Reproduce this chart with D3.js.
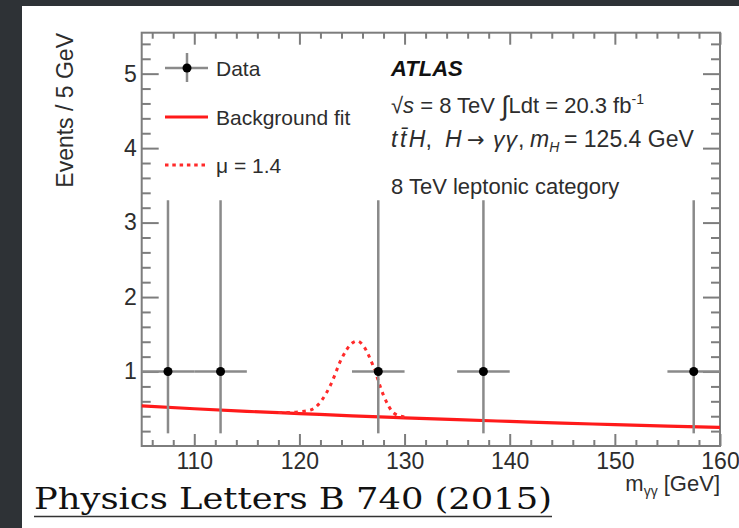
<!DOCTYPE html>
<html><head><meta charset="utf-8">
<script src="https://cdn.jsdelivr.net/npm/d3@7"></script>
<style>
body{margin:0;background:#2e3236}
svg{display:block}
</style>
</head><body><svg id="c" width="739" height="528"></svg>
<script>
// ---- data ----
const dataMass = [107.5, 112.5, 127.5, 137.5, 157.5];
const dataEvents = [1, 1, 1, 1, 1];
const dataErrDown = [0.83, 0.83, 0.83, 0.83, 0.83];
const dataErrUp = [2.30, 2.30, 2.30, 2.30, 2.30];
const binHalfWidth = 2.5;
const bgMass = [105, 110, 115, 120, 125, 130, 135, 140, 145, 150, 155, 160];
const bgEvents = [0.54, 0.50, 0.465, 0.435, 0.405, 0.378, 0.353, 0.33, 0.307, 0.287, 0.268, 0.25];
const sigMass = [118, 119, 120, 121, 122, 123, 124, 125, 125.5, 126, 127, 128, 129, 130];
const sigEvents = [0.45, 0.45, 0.46, 0.48, 0.59, 0.83, 1.17, 1.38, 1.41, 1.36, 1.08, 0.68, 0.44, 0.39];
const xTicks = [110, 120, 130, 140, 150, 160];
const xMinorTicks = [106,108,112,114,116,118,122,124,126,128,132,134,136,138,142,144,146,148,152,154,156,158];
const yTicks = [1, 2, 3, 4, 5];
const yMinorTicks = [0.2,0.4,0.6,0.8,1.2,1.4,1.6,1.8,2.2,2.4,2.6,2.8,3.2,3.4,3.6,3.8,4.2,4.4,4.6,4.8,5.2,5.4];
const xDomain = [105, 160];
const yDomain = [0, 5.55];

// ---- drawing ----
const SANS = '"Liberation Sans",Arial,Helvetica,sans-serif';
const svg = d3.select("#c").style("font-family", SANS);
svg.append("rect").attr("width", 739).attr("height", 528).attr("fill", "#2e3236");
svg.append("rect").attr("x", 22).attr("y", 6).attr("width", 717).attr("height", 522).attr("fill", "#fff");

const L = 141.7, R = 720, T = 32.7, B = 446;
const x = d3.scaleLinear().domain(xDomain).range([L, R]);
const y = d3.scaleLinear().domain(yDomain).range([B, T]);
const axisCol = "#7d7d7d", txtCol = "#2d2d2d";

function styleAxis(g, fs) {
  g.select(".domain").remove();
  g.attr("font-family", SANS);
  g.selectAll(".tick line").attr("stroke", axisCol).attr("stroke-width", 2);
  g.selectAll(".tick text").attr("fill", txtCol).attr("font-size", fs);
}
// bottom
svg.append("g").attr("transform", `translate(0,${B})`)
  .call(d3.axisBottom(x).tickValues(xTicks).tickSize(-12).tickPadding(7).tickFormat(d3.format("d")))
  .call(g => styleAxis(g, 23));
svg.append("g").attr("transform", `translate(0,${B})`)
  .call(d3.axisBottom(x).tickValues(xMinorTicks).tickSize(-6).tickFormat(""))
  .call(g => styleAxis(g, 0));
// top
svg.append("g").attr("transform", `translate(0,${T})`)
  .call(d3.axisTop(x).tickValues(xTicks).tickSize(-12).tickFormat(""))
  .call(g => styleAxis(g, 0));
svg.append("g").attr("transform", `translate(0,${T})`)
  .call(d3.axisTop(x).tickValues(xMinorTicks).tickSize(-6).tickFormat(""))
  .call(g => styleAxis(g, 0));
// left
svg.append("g").attr("transform", `translate(${L},0)`)
  .call(d3.axisLeft(y).tickValues(yTicks).tickSize(-17).tickPadding(5).tickFormat(d3.format("d")))
  .call(g => styleAxis(g, 23));
svg.append("g").attr("transform", `translate(${L},0)`)
  .call(d3.axisLeft(y).tickValues(yMinorTicks).tickSize(-9).tickFormat(""))
  .call(g => styleAxis(g, 0));
// right
svg.append("g").attr("transform", `translate(${R},0)`)
  .call(d3.axisRight(y).tickValues(yTicks).tickSize(-17).tickFormat(""))
  .call(g => styleAxis(g, 0));
svg.append("g").attr("transform", `translate(${R},0)`)
  .call(d3.axisRight(y).tickValues(yMinorTicks).tickSize(-9).tickFormat(""))
  .call(g => styleAxis(g, 0));

// frame
svg.append("rect").attr("x", L).attr("y", T).attr("width", R - L).attr("height", B - T)
  .attr("fill", "none").attr("stroke", axisCol).attr("stroke-width", 2);

// background fit
const line = d3.line().x(d => x(d[0])).y(d => y(d[1])).curve(d3.curveMonotoneX);
svg.append("path").datum(bgMass.map((m, i) => [m, bgEvents[i]]))
  .attr("d", line).attr("fill", "none").attr("stroke", "#ff1a1a").attr("stroke-width", 3.2);
// signal + background
svg.append("path").datum(sigMass.map((m, i) => [m, sigEvents[i]]))
  .attr("d", line).attr("fill", "none").attr("stroke", "#ff2a2a").attr("stroke-width", 3)
  .attr("stroke-dasharray", "3.5,4.5");

// data
const pts = dataMass.map((m, i) => ({m, v: dataEvents[i], lo: dataErrDown[i], hi: dataErrUp[i]}));
const dg = svg.append("g");
dg.selectAll(".ev").data(pts).join("line")
  .attr("x1", d => x(d.m)).attr("x2", d => x(d.m))
  .attr("y1", d => y(d.v - d.lo)).attr("y2", d => y(d.v + d.hi))
  .attr("stroke", "#8a8a8a").attr("stroke-width", 2.5);
dg.selectAll(".eh").data(pts).join("line")
  .attr("x1", d => x(d.m - binHalfWidth)).attr("x2", d => x(d.m + binHalfWidth))
  .attr("y1", d => y(d.v)).attr("y2", d => y(d.v))
  .attr("stroke", "#8a8a8a").attr("stroke-width", 2.5);
dg.selectAll("circle").data(pts).join("circle")
  .attr("cx", d => x(d.m)).attr("cy", d => y(d.v)).attr("r", 4.5).attr("fill", "#000");

// legend
const lg = svg.append("g");
lg.append("line").attr("x1", 165).attr("x2", 208).attr("y1", 68).attr("y2", 68).attr("stroke", "#8a8a8a").attr("stroke-width", 2.5);
lg.append("line").attr("x1", 187).attr("x2", 187).attr("y1", 53).attr("y2", 82).attr("stroke", "#8a8a8a").attr("stroke-width", 2.5);
lg.append("circle").attr("cx", 187).attr("cy", 68).attr("r", 4.5).attr("fill", "#000");
lg.append("line").attr("x1", 165).attr("x2", 208).attr("y1", 117).attr("y2", 117).attr("stroke", "#ff1a1a").attr("stroke-width", 3.2);
lg.append("line").attr("x1", 165).attr("x2", 208).attr("y1", 165).attr("y2", 165).attr("stroke", "#ff2a2a").attr("stroke-width", 3).attr("stroke-dasharray", "3.5,3.8");
const lfs = 21;
lg.append("text").attr("x", 216).attr("y", 75.5).attr("font-size", lfs).attr("fill", txtCol).text("Data");
lg.append("text").attr("x", 216).attr("y", 124.5).attr("font-size", lfs).attr("fill", txtCol).text("Background fit");
lg.append("text").attr("x", 216).attr("y", 172.5).attr("font-size", lfs).attr("fill", txtCol).text("\u03bc = 1.4");

// ATLAS text block
const bfs = 22;
const tb = svg.append("g").attr("fill", txtCol).attr("font-size", bfs);
tb.append("text").attr("x", 391).attr("y", 76).attr("font-weight", "bold").attr("font-style", "italic").attr("fill", "#111").text("ATLAS");
const t2 = tb.append("text").attr("x", 391).attr("y", 113);
t2.append("tspan").text("\u221a");
t2.append("tspan").attr("font-style", "italic").text("s");
t2.append("tspan").text(" = 8 TeV ");
t2.append("tspan").attr("font-size", 27).attr("dy", 2).text("\u222b");
t2.append("tspan").attr("dy", -2).text("Ldt = 20.3 fb");
t2.append("tspan").attr("font-size", 14).attr("dy", -9).text("-1");
const t3 = tb.append("text").attr("y", 147).attr("font-size", 23);
t3.append("tspan").attr("x", 391).attr("font-style", "italic").text("t");
t3.append("tspan").attr("dx", 2.5).attr("font-style", "italic").text("t\u0304");
t3.append("tspan").attr("dx", 2.5).attr("font-style", "italic").text("H");
t3.append("tspan").text(",");
t3.append("tspan").attr("x", 445).attr("font-style", "italic").text("H");
t3.append("tspan").attr("x", 467).attr("font-family", "'DejaVu Sans',sans-serif").attr("font-size", 21).text("\u2192");
t3.append("tspan").attr("x", 493).attr("font-style", "italic").attr("letter-spacing", 1).text("\u03b3\u03b3");
t3.append("tspan").text(",");
t3.append("tspan").attr("x", 530).attr("font-style", "italic").text("m");
t3.append("tspan").attr("font-style", "italic").attr("font-size", 14).attr("dy", 5).text("H");
t3.append("tspan").attr("x", 564).attr("dy", -5).text("= 125.4 GeV");
tb.append("text").attr("x", 391).attr("y", 194).text("8 TeV leptonic category");

// axis titles
const xt = svg.append("text").attr("x", 720).attr("y", 491).attr("text-anchor", "end")
  .attr("font-size", 22).attr("fill", txtCol);
xt.append("tspan").text("m");
xt.append("tspan").attr("font-size", 14).attr("dy", 5).text("\u03b3\u03b3");
xt.append("tspan").attr("dy", -5).text(" [GeV]");
svg.append("text").attr("transform", "translate(73,33) rotate(-90)").attr("text-anchor", "end")
  .attr("font-size", 23).attr("fill", txtCol).text("Events / 5 GeV");

// citation
svg.append("text").attr("x", 34).attr("y", 509)
  .style("font-family", "'DejaVu Serif','Liberation Serif',serif")
  .attr("font-size", 30).attr("fill", "#111").attr("textLength", 518).attr("lengthAdjust", "spacingAndGlyphs")
  .text("Physics Letters B 740 (2015)");
svg.append("line").attr("x1", 34).attr("x2", 552).attr("y1", 516.5).attr("y2", 516.5).attr("stroke", "#333").attr("stroke-width", 1.5);
</script>
</body></html>
